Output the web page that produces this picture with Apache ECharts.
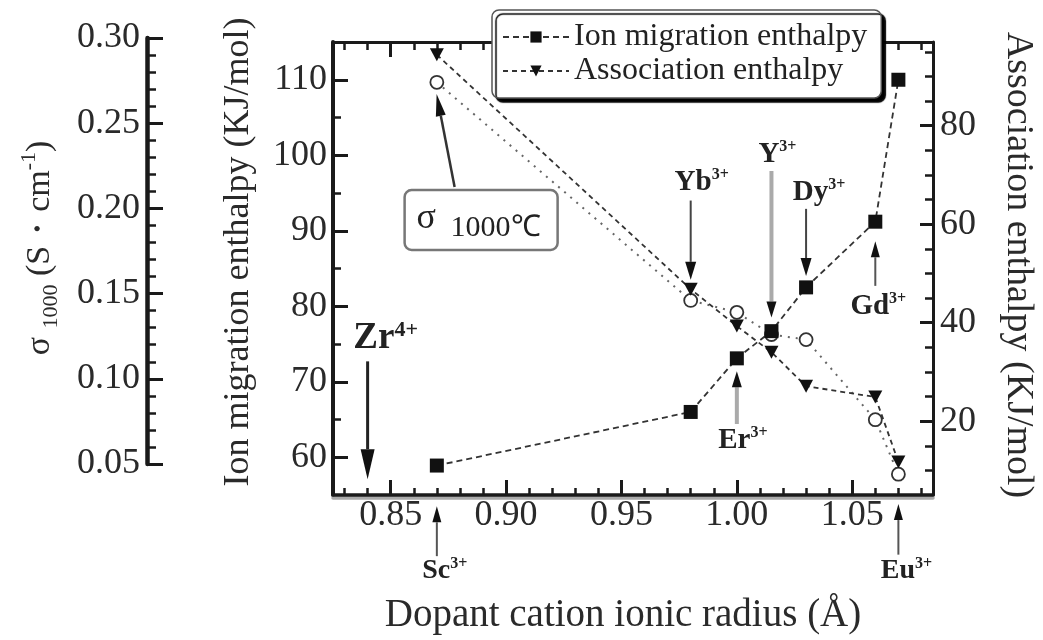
<!DOCTYPE html>
<html><head><meta charset="utf-8">
<script src="https://cdn.jsdelivr.net/npm/echarts@6/dist/echarts.min.js"></script>
<style>html,body{margin:0;padding:0;background:#fff}#c{width:1043px;height:640px}</style>
</head><body><div id="c"></div>
<script>
// ---------- data ----------
const dopants = ['Sc', 'Yb', 'Er', 'Y', 'Dy', 'Gd', 'Eu'];
const radius = [0.87, 0.98, 1.00, 1.015, 1.03, 1.06, 1.07];            // Å
const ionMigration = [58.9, 66.0, 73.1, 76.7, 82.5, 91.2, 110.0];     // KJ/mol (left axis)
const association = [94.4, 46.8, 39.3, 34.0, 27.1, 24.9, 11.7];      // KJ/mol (right axis)
const sigma1000 = [0.274, 0.146, 0.139, 0.126, 0.123, 0.076, 0.044];  // S/cm (far-left axis)

const xMajor = [0.85, 0.90, 0.95, 1.00, 1.05];
const xMinor = [0.83, 0.84, 0.86, 0.87, 0.88, 0.89, 0.91, 0.92, 0.93, 0.94, 0.96, 0.97, 0.98, 0.99, 1.01, 1.02, 1.03, 1.04, 1.06, 1.07, 1.08];
const ionMajor = [60, 70, 80, 90, 100, 110];
const ionMinor = [65, 75, 85, 95, 105];
const assocMajor = [20, 40, 60, 80];
const assocMinor = [10, 15, 25, 30, 35, 45, 50, 55, 65, 70, 75, 85, 90, 95];
const sigmaMajor = [0.05, 0.10, 0.15, 0.20, 0.25, 0.30];
const sigmaMinor = [0.06, 0.07, 0.08, 0.09, 0.11, 0.12, 0.13, 0.14, 0.16, 0.17, 0.18, 0.19, 0.21, 0.22, 0.23, 0.24, 0.26, 0.27, 0.28, 0.29];

// annotations (anchored in data units: x = radius, y = ion-migration axis units)
const annoIon = ['Zr', 'Sc', 'Yb', 'Er', 'Y', 'Dy', 'Gd', 'Eu'];
const annoCharge = ['4+', '3+', '3+', '3+', '3+', '3+', '3+', '3+'];
const annoRadius = [0.84, 0.87, 0.98, 1.00, 1.015, 1.03, 1.06, 1.07];
const annoFrom = [72.7, 46.9, 94.0, 64.4, 97.9, 92.9, 82.7, 47.1];
const annoTo = [57.1, 53.5, 83.5, 71.4, 78.5, 84.0, 88.6, 53.8];
const sigmaNote = { fromX: 0.8777, fromY: 95.8, toX: 0.8699, toY: 108.1 };

// ---------- styles ----------
const F = '"Liberation Serif", "Times New Roman", serif';
const INK = '#1a1a1a';
const annoStyle = [
  { side: 'above', dx: 18, dy: -3, color: '#222', lw: 3, hl: 30, hw: 14, fs: 37, ss: 22 },
  { side: 'below', dx: 8, dy: 0, color: '#555', lw: 2, hl: 16, hw: 9, fs: 28, ss: 16 },
  { side: 'above', dx: 11, dy: -3, color: '#444', lw: 2, hl: 18, hw: 11, fs: 29, ss: 16 },
  { side: 'below', dx: 6, dy: 1, color: '#aaa', lw: 4, hl: 16, hw: 10, fs: 29, ss: 16 },
  { side: 'above', dx: 6, dy: -1, color: '#aaa', lw: 4, hl: 16, hw: 10, fs: 29, ss: 16 },
  { side: 'above', dx: 13, dy: -1, color: '#444', lw: 2, hl: 18, hw: 11, fs: 29, ss: 16 },
  { side: 'below', dx: 3, dy: 5, color: '#555', lw: 2, hl: 16, hw: 9, fs: 29, ss: 16 },
  { side: 'below', dx: 8, dy: 1, color: '#555', lw: 2, hl: 16, hw: 9, fs: 28, ss: 16 }
];

const X_MIN = 0.825, X_MAX = 1.085;
const labelFont = { fontSize: 36, fontFamily: F, color: '#2a2a2a' };

function xAxis(grid, pos, ticks, len, lineOpt, labels) {
  return {
    type: 'value', gridIndex: grid, position: pos, min: X_MIN, max: X_MAX,
    splitLine: { show: false },
    axisLine: lineOpt ? Object.assign({ show: true, onZero: false }, lineOpt) : { show: false },
    axisTick: { show: true, inside: true, length: len, customValues: ticks, lineStyle: { color: INK, width: len > 10 ? 3 : 2.5 } },
    axisLabel: labels ? Object.assign({ show: true, customValues: labels, formatter: v => v.toFixed(2), margin: 3, hideOverlap: false }, labelFont) : { show: false }
  };
}
function yAxis(grid, pos, min, max, ticks, len, lineOpt, labels, fmt, margin, offset) {
  return {
    type: 'value', gridIndex: grid, position: pos, min: min, max: max, offset: offset || 0,
    splitLine: { show: false },
    axisLine: lineOpt ? Object.assign({ show: true, onZero: false }, lineOpt) : { show: false },
    axisTick: { show: true, inside: true, length: len, customValues: ticks, lineStyle: { color: INK, width: len > 10 ? 3 : 2.5 } },
    axisLabel: labels ? Object.assign({ show: true, customValues: labels, formatter: fmt, margin: margin, hideOverlap: false }, labelFont) : { show: false }
  };
}

const option = {
  backgroundColor: '#fff',
  animation: false,
  grid: [
    { left: 333, right: 110, top: 42, bottom: 145, containLabel: false, outerBoundsMode: 'none' },
    { left: 333, right: 110, top: 38, height: 426, containLabel: false, outerBoundsMode: 'none' }
  ],
  xAxis: [
    xAxis(0, 'bottom', xMajor, 15, { lineStyle: { color: INK, width: 3.5, shadowColor: '#aaa', shadowOffsetY: 3 } }, xMajor),
    xAxis(0, 'bottom', xMinor, 7, null, null),
    xAxis(0, 'top', [0.85], 15, { lineStyle: { color: INK, width: 3 } }, null),
    xAxis(0, 'top', xMinor.concat([0.90, 0.95, 1.00, 1.05]), 8, null, null),
    { type: 'value', gridIndex: 1, min: X_MIN, max: X_MAX, show: false }
  ],
  yAxis: [
    yAxis(0, 'left', 55, 115, ionMajor, 15, { lineStyle: { color: INK, width: 4 } }, ionMajor, v => String(v), 6),
    yAxis(0, 'left', 55, 115, ionMinor, 8, null, null),
    yAxis(0, 'right', 5, 97, assocMajor, 13, { lineStyle: { color: INK, width: 3 } }, assocMajor, v => String(v), 7),
    yAxis(0, 'right', 5, 97, assocMinor, 8, null, null),
    yAxis(1, 'left', 0.05, 0.30, sigmaMajor, 16, { lineStyle: { color: INK, width: 4.5 } }, sigmaMajor, v => v.toFixed(2), 7, 186),
    yAxis(1, 'left', 0.05, 0.30, sigmaMinor, 9, null, null, null, 0, 186)
  ],
  legend: {
    data: ['Ion migration enthalpy', 'Association enthalpy'],
    orient: 'vertical', left: 492, top: 10,
    padding: [11, 14, 11, 10],
    itemWidth: 66, itemHeight: 14, itemGap: 2,
    selectedMode: false,
    textStyle: { fontSize: 32, fontFamily: F, color: '#222', lineHeight: 31 },
    backgroundColor: '#fff', borderColor: '#555', borderWidth: 1.5, borderRadius: 7,
    shadowColor: '#000', shadowOffsetX: 4, shadowOffsetY: 4, shadowBlur: 1
  },
  series: [
    {
      name: 'Ion migration enthalpy', type: 'line', xAxisIndex: 0, yAxisIndex: 0, clip: false,
      data: radius.map((r, i) => [r, ionMigration[i]]),
      symbol: 'rect', symbolSize: 14,
      itemStyle: { color: '#111' },
      lineStyle: { color: '#333', width: 1.8, type: [6, 4] }, z: 4
    },
    {
      name: 'Association enthalpy', type: 'line', xAxisIndex: 0, yAxisIndex: 2, clip: false,
      data: radius.map((r, i) => [r, association[i]]),
      symbol: 'triangle', symbolRotate: 180, symbolSize: [14, 13],
      itemStyle: { color: '#111' },
      lineStyle: { color: '#333', width: 1.8, type: [5, 4] }, z: 4
    },
    {
      name: 'σ1000', type: 'line', xAxisIndex: 4, yAxisIndex: 4, clip: false,
      data: radius.map((r, i) => [r, sigma1000[i]]),
      symbol: 'circle', symbolSize: 13,
      itemStyle: { color: '#fff', borderColor: '#333', borderWidth: 1.8 },
      lineStyle: { color: '#666', width: 2, type: [2, 6] }, z: 3
    }
  ]
};

const chart = echarts.init(document.getElementById('c'), null, { renderer: 'canvas' });
chart.setOption(option);

// ---------- annotations, titles ----------
const P = (x, v) => chart.convertToPixel({ xAxisIndex: 0, yAxisIndex: 0 }, [x, v]);
function arrow(p0, p1, color, lw, hl, hw) {
  const dx = p1[0] - p0[0], dy = p1[1] - p0[1];
  const L = Math.hypot(dx, dy), ux = dx / L, uy = dy / L;
  const bx = p1[0] - ux * hl, by = p1[1] - uy * hl;
  return [
    { type: 'line', z: 100, shape: { x1: p0[0], y1: p0[1], x2: bx, y2: by }, style: { stroke: color, lineWidth: lw } },
    { type: 'polygon', z: 101, shape: { points: [[p1[0], p1[1]], [bx - uy * hw / 2, by + ux * hw / 2], [bx + uy * hw / 2, by - ux * hw / 2]] }, style: { fill: '#111' } }
  ];
}
const g = [];
annoIon.forEach((ion, i) => {
  const s = annoStyle[i];
  const p0 = P(annoRadius[i], annoFrom[i]);
  const p1 = P(annoRadius[i], annoTo[i]);
  g.push(...arrow(p0, p1, s.color, s.lw, s.hl, s.hw));
  g.push({
    type: 'text', z: 102, x: p0[0] + s.dx, y: p0[1] + s.dy,
    style: {
      text: '{m|' + ion + '}{s|' + annoCharge[i] + '}',
      align: 'center', verticalAlign: s.side === 'above' ? 'bottom' : 'top',
      rich: {
        m: { fontSize: s.fs, fontWeight: 'bold', fontFamily: F, fill: '#222', lineHeight: s.fs + 2 },
        s: { fontSize: s.ss, fontWeight: 'bold', fontFamily: F, fill: '#222', verticalAlign: 'top', lineHeight: s.ss }
      }
    }
  });
});
// σ1000℃ callout
const s0 = P(sigmaNote.fromX, sigmaNote.fromY), s1 = P(sigmaNote.toX, sigmaNote.toY);
g.push(...arrow(s0, s1, '#333', 2.5, 22, 10));
g.push({ type: 'rect', z: 100, shape: { x: s0[0] - 50, y: s0[1] + 3, width: 153, height: 60, r: 7 }, style: { fill: '#fff', stroke: '#777', lineWidth: 2.5 } });
g.push({ type: 'text', z: 102, x: s0[0] - 38, y: s0[1] + 32, style: { text: 'σ', fontSize: 36, fontFamily: F, fill: '#222', align: 'left', verticalAlign: 'middle' } });
g.push({ type: 'text', z: 102, x: s0[0] - 4, y: s0[1] + 41, style: { text: '1000℃', fontSize: 30, fontFamily: F, fill: '#222', align: 'left', verticalAlign: 'middle' } });

// axis titles
g.push({ type: 'text', z: 50, x: 623, y: 616, style: { text: 'Dopant cation ionic radius (Å)', fontSize: 39, fontFamily: F, fill: '#2a2a2a', align: 'center', verticalAlign: 'middle' } });
g.push({ type: 'text', z: 50, x: 239, y: 252, rotation: Math.PI / 2, style: { text: 'Ion migration enthalpy (KJ/mol)', fontSize: 36, fontFamily: F, fill: '#2a2a2a', align: 'center', verticalAlign: 'middle' } });
g.push({ type: 'text', z: 50, x: 1018, y: 265, rotation: -Math.PI / 2, style: { text: 'Association enthalpy (KJ/mol)', fontSize: 38, fontFamily: F, fill: '#2a2a2a', align: 'center', verticalAlign: 'middle' } });
g.push({
  type: 'text', z: 50, x: 40, y: 248, rotation: Math.PI / 2,
  style: {
    text: '{n|σ }{sub|1000}{n| (S・cm}{sup|-1}{n|)}', align: 'center', verticalAlign: 'middle',
    rich: {
      n: { fontSize: 34, fontFamily: F, fill: '#2a2a2a', lineHeight: 44 },
      sub: { fontSize: 22, fontFamily: F, fill: '#2a2a2a', verticalAlign: 'bottom', lineHeight: 22 },
      sup: { fontSize: 22, fontFamily: F, fill: '#2a2a2a', verticalAlign: 'top', lineHeight: 22 }
    }
  }
});
chart.setOption({ graphic: { elements: g } });
</script>
</body></html>
